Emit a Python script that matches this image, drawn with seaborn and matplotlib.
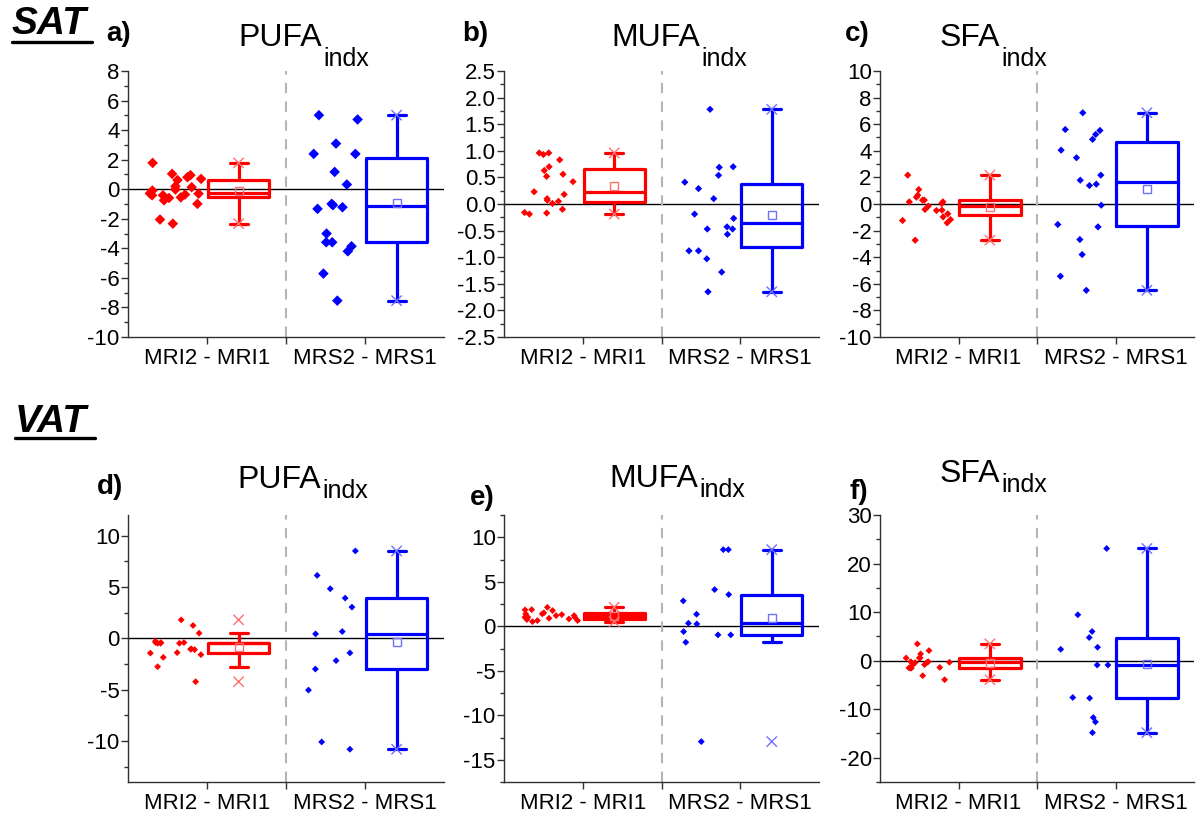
import numpy as np
import pandas as pd
import matplotlib
matplotlib.use("Agg")
import matplotlib.pyplot as plt
import seaborn as sns
from matplotlib.lines import Line2D
from matplotlib.ticker import MultipleLocator

# ---------------- data ----------------
groups = ["MRI2 - MRI1", "MRS2 - MRS1"]

sat_pufa_mri = [1.78, 0.95, 1.04, 0.81, 0.70, 0.62, 0.20, -0.09, -0.41, -0.02, -0.36,
                0.14, -0.59, -0.41, -0.75, -0.99, -2.05, -2.33, -0.30, -0.28, -0.55]
sat_pufa_mrs = [4.72, 5.01, 3.09, 2.39, 2.39, 1.17, 0.32, -1.22, -0.99, -1.33, -1.08,
                -3.00, -3.59, -3.59, -3.86, -4.20, -5.71, -7.54]
sat_mufa_mri = [0.96, 0.96, 0.93, 0.83, 0.63, 0.70, 0.56, 0.52, 0.42, 0.23, 0.18,
                0.10, 0.07, 0.05, 0.01, -0.17, -0.16, -0.19, -0.10]
sat_mufa_mrs = [1.78, 0.69, 0.70, 0.54, 0.41, 0.29, 0.10, -0.19, -0.27, -0.47, -0.57,
                -0.47, -0.43, -0.88, -0.88, -1.03, -1.28, -1.65]
sat_sfa_mri = [2.17, 1.09, 0.66, 0.51, 0.16, 0.29, 0.29, 0.04, 0.16, -0.16, -0.41,
               -0.46, -0.74, -0.49, -0.97, -1.17, -1.24, -1.42, -2.72]
sat_sfa_mrs = [6.86, 5.53, 5.23, 5.60, 4.86, 4.05, 3.48, 2.17, 1.79, 1.39, 1.49,
               -0.09, -1.72, -1.54, -2.67, -3.80, -5.43, -6.49]
vat_pufa_mri = [1.79, 1.24, 0.49, -0.29, -0.42, -0.42, -0.42, -0.49, -0.49, -0.49,
                -1.07, -1.11, -1.45, -1.40, -1.04, -1.60, -1.86, -2.77, -4.23]
vat_pufa_mrs = [8.50, 6.12, 4.82, 3.91, 3.03, 0.42, 0.65, -1.43, -2.18, -3.00, -5.05,
                -10.10, -10.81]
vat_mufa_mri = [0.75, 1.01, 1.50, 1.01, 0.52, 1.39, 1.76, 1.31, 2.13, 1.87, 1.39,
                1.20, 1.01, 0.64, 0.64, 1.84, 0.82, 1.20, 0.90]
vat_mufa_mrs = [8.61, 8.61, 4.12, 3.56, 2.85, 1.35, 0.26, 0.34, -0.97, -0.60, -0.97,
                -1.80, -12.96]
vat_sfa_mri = [-3.10, -1.52, -0.21, 2.07, 3.45, -1.40, -1.50, -0.21, 0.55, 1.38, -1.52,
               -0.34, -3.93, 0.55, 0.55, -0.83, -0.83, -0.41, -0.34]
vat_sfa_mrs = [23.1, 9.45, 6.0, 4.76, 2.76, 2.34, -0.90, -0.90, -7.72, -7.59, -11.72,
               -12.62, -14.83]

titles = ["PUFA", "MUFA", "SFA", "PUFA", "MUFA", "SFA"]
subscript = "indx"
letters = ["a)", "b)", "c)", "d)", "e)", "f)"]
y_limits = [(-10, 8), (-2.5, 2.5), (-10, 10), (-14, 12), (-17.5, 12.5), (-25, 30)]
y_major = [2, 0.5, 2, 5, 5, 10]
y_minor = [1, 0.25, 1, 2.5, 2.5, 5]
# SAT whiskers span min..max, VAT whiskers use 1.5 IQR
whisker_rule = [(0, 100), (0, 100), (0, 100), 1.5, 1.5, 1.5]

# ---------------- style ----------------
sns.set_theme(style="ticks")
plt.rcParams["font.family"] = ["Liberation Sans", "DejaVu Sans"]
plt.rcParams["axes.unicode_minus"] = False
plt.rcParams["text.color"] = "black"

RED, BLUE = "#FF0000", "#0000FF"
LRED, LBLUE = "#FF7070", "#7070FF"

W, H = 1197, 816
fig = plt.figure(figsize=(W / 100, H / 100), dpi=100)


def fx(px):
    return px / W


def fy(py):
    return 1 - py / H


col_left = [128, 504, 880]
col_w = [316, 315, 314]
row_top = [71, 515]
row_h = [266, 267]

datasets = [
    (sat_pufa_mri, sat_pufa_mrs), (sat_mufa_mri, sat_mufa_mrs), (sat_sfa_mri, sat_sfa_mrs),
    (vat_pufa_mri, vat_pufa_mrs), (vat_mufa_mri, vat_mufa_mrs), (vat_sfa_mri, vat_sfa_mrs),
]
marker_sizes = [5.4, 3.7, 3.7, 3.5, 3.5, 3.5]

strip_pos = {groups[0]: 0.6, groups[1]: 2.6}
box_pos = {groups[0]: 1.4, groups[1]: 3.4}

np.random.seed(7)
for i, (mri, mrs) in enumerate(datasets):
    r, c = divmod(i, 3)
    ax = fig.add_axes([fx(col_left[c]), fy(row_top[r] + row_h[r]),
                       col_w[c] / W, row_h[r] / H])
    df = pd.DataFrame({
        "group": [groups[0]] * len(mri) + [groups[1]] * len(mrs),
        "value": list(mri) + list(mrs),
    })
    df["xs"] = df["group"].map(strip_pos)
    df["xb"] = df["group"].map(box_pos)

    ax.axhline(0, color="black", lw=1.0, zorder=1)
    ax.axvline(2, color="#b5b5b5", lw=1.5, ls=(0, (5, 4)), zorder=1)

    sns.stripplot(data=df, x="xs", y="value", hue="group", hue_order=groups,
                  palette=[RED, BLUE], native_scale=True, jitter=0.17,
                  marker="D", size=marker_sizes[i], linewidth=0, legend=False,
                  ax=ax, zorder=3)

    sns.boxplot(data=df, x="xb", y="value", hue="group", hue_order=groups,
                palette=[RED, BLUE], native_scale=True, fill=False, width=0.39,
                linewidth=2.3, whis=whisker_rule[i], showfliers=False, showmeans=True,
                meanprops=dict(marker="s", markerfacecolor="none",
                               markeredgecolor="#8888ff", markersize=5.5,
                               markeredgewidth=1.0),
                capwidths=0.23, legend=False, ax=ax)
    mean_lines = [ln for ln in ax.lines if ln.get_marker() == "s"]
    for ln, col in zip(mean_lines, [LRED, LBLUE]):
        ln.set_markeredgecolor(col)

    ext = df.groupby("group", sort=False)["value"].agg(["min", "max"]).reset_index()
    ext = ext.melt(id_vars="group", value_name="value")
    ext["xb"] = ext["group"].map(box_pos)
    sns.scatterplot(data=ext, x="xb", y="value", hue="group", hue_order=groups,
                    palette=[LRED, LBLUE], marker="x", s=55, linewidth=1.0,
                    legend=False, ax=ax, zorder=4)

    ax.set_xlim(0, 4)
    ax.set_ylim(*y_limits[i])
    ax.yaxis.set_major_locator(MultipleLocator(y_major[i]))
    ax.yaxis.set_minor_locator(MultipleLocator(y_minor[i]))
    ax.set_xticks([1, 2, 3])
    ax.set_xticklabels([groups[0], "", groups[1]])
    if y_major[i] < 1:
        ax.yaxis.set_major_formatter(matplotlib.ticker.FormatStrFormatter("%.1f"))
    ax.set_xlabel("")
    ax.set_ylabel("")
    sns.despine(ax=ax)
    for sp in ("left", "bottom"):
        ax.spines[sp].set_color("#303030")
        ax.spines[sp].set_linewidth(1.0)
    ax.tick_params(axis="both", which="major", direction="out", length=5,
                   width=1, color="#303030", labelcolor="black")
    ax.tick_params(axis="y", which="minor", direction="out", length=3,
                   width=1, color="#303030")
    ax.tick_params(axis="y", labelsize=16, pad=1)
    ax.tick_params(axis="x", labelsize=16, pad=3)
    ax.set_facecolor("white")

# ---------------- titles and labels ----------------
title_right = [322, 700, 1000, 321, 698, 1000]
title_base = [46, 46, 46, 488, 487, 482]
sub_base = [66, 66, 66, 498, 497, 492]
for i in range(6):
    fig.text(fx(title_right[i]), fy(title_base[i]), titles[i], fontsize=23,
             color="black", ha="right", va="baseline")
    fig.text(fx(title_right[i] + 1), fy(sub_base[i]), subscript, fontsize=18,
             color="black", ha="left", va="baseline")

letter_x = [106, 462, 845, 97, 470, 850]
letter_base = [41, 41, 41, 494, 505, 499]
for i in range(6):
    fig.text(fx(letter_x[i]), fy(letter_base[i]), letters[i], fontsize=20,
             fontweight="bold", color="black", ha="left", va="baseline")

for label, x0, base, uy in [("SAT", 12, 34, 42), ("VAT", 15, 432, 438)]:
    fig.text(fx(x0), fy(base), label, fontsize=28, fontweight="bold",
             fontstyle="italic", color="black", ha="left", va="baseline")
    fig.add_artist(Line2D([fx(x0), fx(x0 + 80)], [fy(uy), fy(uy)],
                          color="black", lw=2.4, transform=fig.transFigure))

fig.savefig("out.png", dpi=100, facecolor="white")
